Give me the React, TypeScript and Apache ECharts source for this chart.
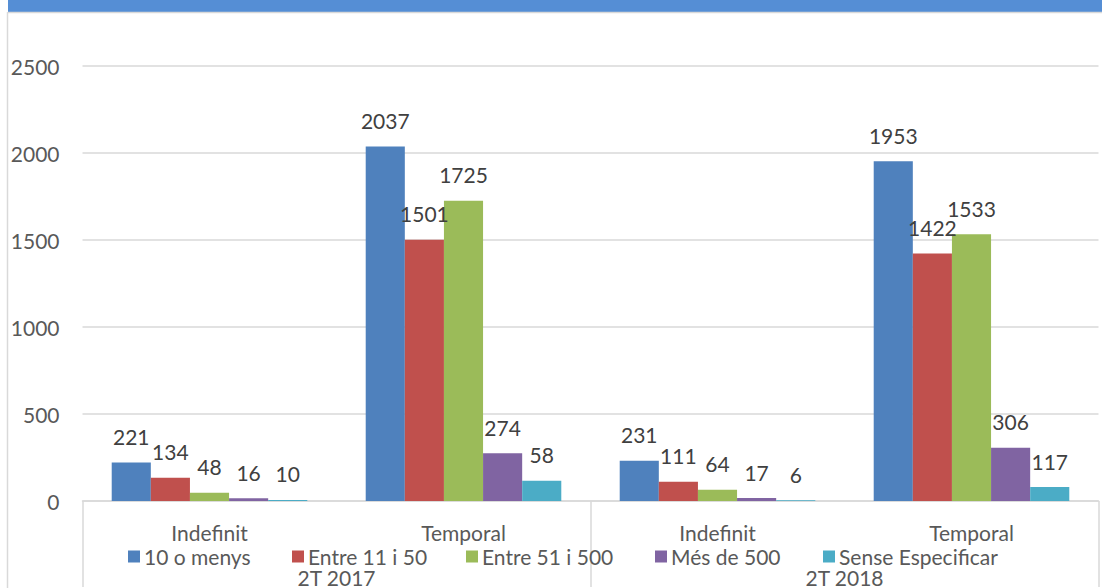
import React, { useEffect, useRef } from "react";
import * as echarts from "echarts";

const categories = ["Indefinit", "Temporal", "Indefinit", "Temporal"];
const periods = ["2T 2017", "2T 2018"];
const seriesNames = ["10 o menys", "Entre 11 i 50", "Entre 51 i 500", "Més de 500", "Sense Especificar"];
const colors = ["#4F81BD", "#C0504D", "#9BBB59", "#8064A2", "#4BACC6"];

const menys10 = [221, 2037, 231, 1953];
const entre11 = [134, 1501, 111, 1422];
const entre51 = [48, 1725, 64, 1533];
const mes500 = [16, 274, 17, 306];
// bar heights as drawn in the picture
const senseBars = [6, 116, 4, 80];
// labels as printed in the picture
const senseLabels = [10, 58, 6, 117];

const yTicks = [0, 500, 1000, 1500, 2000, 2500];

const legendLefts = [128, 292, 466, 655, 823];

const FONT = "Lato, 'Open Sans', sans-serif";
const TEXT = "#595959";
const GRID = "#d9d9d9";
const FS = 21;

export default function App() {
  const ref = useRef<HTMLDivElement>(null);
  useEffect(() => {
    if (!ref.current) return;
    const chart = echarts.init(ref.current, undefined, { renderer: "svg" });
    const valueSets = [menys10, entre11, entre51, mes500, senseBars];
    const labelSets = [menys10, entre11, entre51, mes500, senseLabels];
    chart.setOption({
      animation: false,
      textStyle: { fontFamily: FONT },
      graphic: [
        { type: "rect", shape: { x: 8, y: 0, width: 1094, height: 12 }, style: { fill: "#558ED5" }, silent: true },
        { type: "line", shape: { x1: 8, y1: 12.5, x2: 1102, y2: 12.5 }, style: { stroke: GRID, lineWidth: 1.5 }, silent: true },
        { type: "line", shape: { x1: 7.5, y1: 12, x2: 7.5, y2: 588 }, style: { stroke: GRID, lineWidth: 1.5 }, silent: true },
      ],
      legend: seriesNames.map((name, i) => ({
        data: [name],
        left: legendLefts[i],
        top: 546,
        padding: 0,
        itemWidth: 12,
        itemHeight: 12,
        icon: "rect",
        textStyle: { fontSize: FS, color: TEXT, fontFamily: FONT, padding: [0, 0, 0, -1] },
      })),
      grid: { left: 82.5, right: 3.5, top: 66, bottom: 85, containLabel: false },
      xAxis: [
        {
          type: "category",
          data: categories,
          axisLine: { show: true, lineStyle: { color: GRID, width: 1.5 } },
          axisTick: { show: false },
          axisLabel: { fontSize: FS, color: TEXT, margin: 21, fontFamily: FONT },
        },
        {
          type: "category",
          position: "bottom",
          data: periods,
          axisLine: { show: false },
          axisTick: { show: true, length: 86, lineStyle: { color: GRID, width: 1.5 } },
          axisLabel: { fontSize: FS, color: TEXT, margin: 66, fontFamily: FONT },
        },
      ],
      yAxis: {
        type: "value",
        min: yTicks[0],
        max: yTicks[yTicks.length - 1],
        interval: 500,
        axisLine: { show: false },
        axisTick: { show: false },
        splitLine: { lineStyle: { color: GRID, width: 1.5 } },
        axisLabel: {
          fontSize: FS,
          color: TEXT,
          margin: 23,
          fontFamily: FONT,
          formatter: (v: number) => String(v),
        },
      },
      series: seriesNames.map((name, i) => ({
        name,
        type: "bar",
        xAxisIndex: 0,
        data: valueSets[i],
        barGap: "0%",
        barCategoryGap: "23%",
        itemStyle: { color: colors[i] },
        label: {
          show: true,
          position: "top",
          distance: 14,
          fontSize: FS,
          lineHeight: 24,
          color: "#404040",
          fontFamily: FONT,
          formatter: (p: any) => String(labelSets[i][p.dataIndex]),
        },
      })),
    });
    return () => chart.dispose();
  }, []);
  return (
    <div
      ref={ref}
      style={{ position: "fixed", left: 0, top: 0, width: 1102, height: 588, background: "#fff" }}
    />
  );
}
